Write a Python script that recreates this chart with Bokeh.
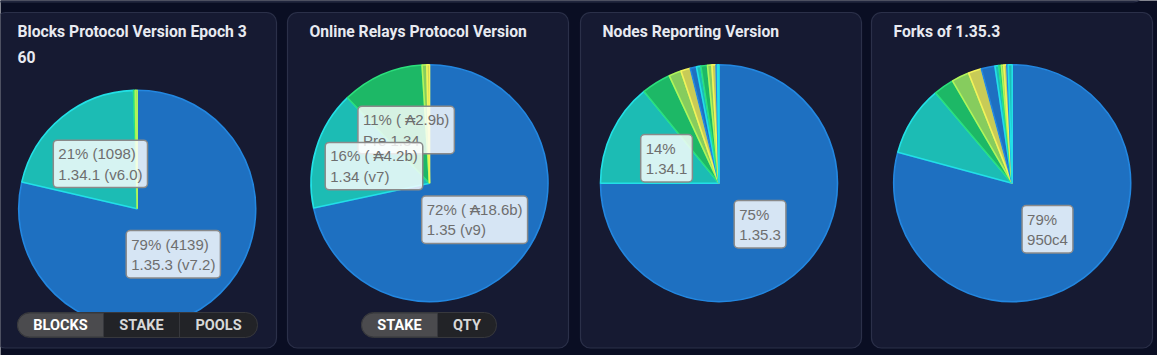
import numpy as np
from bokeh.plotting import figure
from bokeh.models import ColumnDataSource, Range1d
from bokeh.core.properties import value
from bokeh.embed import file_html
from bokeh.resources import INLINE

# ---------------- data ----------------
titles = ["Blocks Protocol Version Epoch 3\n60", "Online Relays Protocol Version",
          "Nodes Reporting Version", "Forks of 1.35.3"]

blocks_versions = ["1.35.3 (v7.2)", "1.34.1 (v6.0)", "1.34.0 (v6.0)", "1.33.0 (v5.0)"]
blocks_counts = [4139, 1098, 12, 14]

relay_versions = ["1.35 (v9)", "1.34 (v7)", "Pre 1.34", "1.33 (v6)", "1.32 (v5)"]
relay_stake_b = [18.6, 4.2, 2.9, 0.17, 0.09]

node_versions = ["1.35.3", "1.34.1", "1.35.2", "1.35.1", "1.35.0", "1.34.0",
                 "1.33.0", "1.35.4", "1.35.5", "1.32.1", "1.31.0", "1.30.1"]
node_counts = [1500, 282, 80, 34, 26, 17, 12, 18, 12, 11, 4, 4]

fork_names = ["950c4", "fork-2", "fork-3", "fork-4", "fork-5", "fork-6",
              "fork-7", "fork-8", "fork-9", "fork-10", "fork-11", "fork-12"]
fork_counts = [1188, 144, 42, 36, 27, 28, 8, 5, 5, 6, 3, 8]

blocks_buttons = ["BLOCKS", "STAKE", "POOLS"]
relay_buttons = ["STAKE", "QTY"]

# ---------------- styling ----------------
PAGE_BG = "#0a0e23"
PANEL_BG = "#161a32"
PANEL_LINE = "#2b3049"
FILLS = ["#1e70c1", "#1cbcb4", "#1db866", "#86cc5e", "#c8cb57"]
LINES = ["#2387e0", "#22e0e6", "#2be07c", "#b0f55a", "#f2f25a"]
R = 118.5
W, H = 1157, 355
H_SCREEN = 355  # data y = 355 - screen y

p = figure(width=W, height=H, x_range=Range1d(0, W), y_range=Range1d(0, H),
           output_backend="svg", toolbar_location=None, min_border=0,
           x_axis_type=None, y_axis_type=None,
           background_fill_color=PAGE_BG, border_fill_color=PAGE_BG,
           outline_line_color=None)
p.grid.visible = False

# strip of the panel row above
p.quad(left=-20, right=1143, top=H_SCREEN + 20, bottom=H_SCREEN - 1.5,
       fill_color=PANEL_BG, line_color=PANEL_LINE, line_width=1.2, border_radius=10)

# panels
panel_left = [-5, 287, 580, 871]
panel_w = 281
p.quad(left=panel_left, right=[l + panel_w for l in panel_left],
       top=H_SCREEN - 12, bottom=H_SCREEN - 347.5,
       fill_color=PANEL_BG, line_color=PANEL_LINE, line_width=1.2, border_radius=10)

# titles
tx, ty, tt = [], [], []
for l, t in zip(panel_left, titles):
    for k, line in enumerate(t.split("\n")):
        tx.append(l + 22)
        ty.append(H_SCREEN - 31 - 25 * k)
        tt.append(line)
p.text(x=tx, y=ty, text=tt, text_font=value("Roboto"), text_font_style="bold",
       text_font_size="15.7px", text_color="#e8eaf1", text_align="left",
       text_baseline="middle")

centers = [(136.7, H_SCREEN - 208.3), (429.0, H_SCREEN - 182.7),
           (718.5, H_SCREEN - 182.7), (1011.7, H_SCREEN - 182.7)]


def pie(cx, cy, vals, fmt):
    vals = np.asarray(vals, dtype=float)
    frac = vals / vals.sum()
    c1 = np.cumsum(frac)
    c0 = c1 - frac
    n = len(vals)
    src = ColumnDataSource(dict(
        start=np.pi / 2 - 2 * np.pi * c0,
        end=np.pi / 2 - 2 * np.pi * c1,
        fill=[FILLS[i % 5] for i in range(n)],
        line=[LINES[i % 5] for i in range(n)],
    ))
    p.wedge(x=cx, y=cy, radius=R, start_angle="start", end_angle="end",
            direction="clock", fill_color="fill", line_color="line",
            line_width=1.6, source=src)
    lx, ly, lt = [], [], []
    for i in reversed(range(n)):
        if frac[i] >= 0.10:
            mid = np.pi / 2 - np.pi * (c0[i] + c1[i])
            lx.append(cx + 0.49 * R * np.cos(mid))
            ly.append(cy + 0.49 * R * np.sin(mid))
            lt.append(fmt(i, int(round(100 * frac[i]))))
    p.text(x=lx, y=ly, text=lt, text_font=value("Liberation Sans"),
           text_font_size="15px", text_color="#6e6e6e", text_align="left",
           text_baseline="middle", anchor=value("center"), text_line_height=1.2,
           background_fill_color="#ffffff", background_fill_alpha=0.82,
           border_line_color="#8a8a8a", border_line_width=1.5,
           padding=5, border_radius=4)


pie(*centers[0], blocks_counts,
    lambda i, pc: f"{pc}% ({blocks_counts[i]})\n{blocks_versions[i]}")
pie(*centers[1], relay_stake_b,
    lambda i, pc: f"{pc}% ( \u20b3{relay_stake_b[i]:.1f}b)\n{relay_versions[i]}")
pie(*centers[2], node_counts, lambda i, pc: f"{pc}%\n{node_versions[i]}")
pie(*centers[3], fork_counts, lambda i, pc: f"{pc}%\n{fork_names[i]}")


# segmented buttons
def buttons(edges, labels, active=0):
    top, bot = H_SCREEN - 312, H_SCREEN - 337
    p.quad(left=edges[0], right=edges[-1], top=top, bottom=bot,
           fill_color="#222327", line_color="#37383d", line_width=1, border_radius=12)
    p.quad(left=edges[active], right=edges[active + 1], top=top - 0.5, bottom=bot + 0.5,
           fill_color="#4b4b4e", line_color="#37383d", line_width=1,
           border_radius=(12, 0, 0, 12))
    for e in edges[1:-1]:
        p.segment(x0=e, x1=e, y0=top, y1=bot, line_color="#37383d", line_width=1)
    xs = [(a + b) / 2 for a, b in zip(edges[:-1], edges[1:])]
    cols = ["#ffffff" if k == active else "#d8d8d8" for k in range(len(labels))]
    p.text(x=xs, y=(top + bot) / 2, text=labels, text_font=value("Roboto"),
           text_font_style="bold", text_font_size="14.5px", text_color=cols,
           text_align="center", text_baseline="middle")


buttons([17, 103, 179, 257], blocks_buttons)
buttons([361, 437, 496], relay_buttons)

open("out.html", "w").write(file_html(p, INLINE))
